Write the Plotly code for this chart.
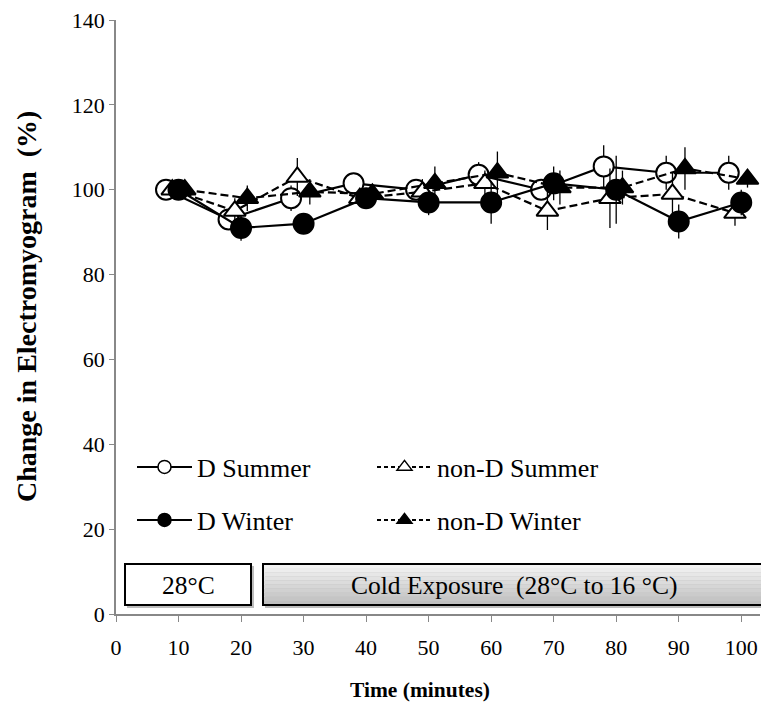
import plotly.graph_objects as go

# ---- data ----
time_min = [10, 20, 30, 40, 50, 60, 70, 80, 90, 100]

d_summer = [100, 93, 98, 101.5, 100, 103.5, 100, 105.5, 104, 104]
d_summer_err = [0, 2, 3, 2, 2, 3, 2, 5, 4, 4]

non_d_summer = [100, 95, 103, 98, 99.5, 101.5, 95, 98, 99, 94.5]
non_d_summer_err = [0, 3, 4.5, 2, 3, 3, 4.5, 7, 5, 3]

d_winter = [100, 91, 92, 98, 97, 97, 101.5, 100, 92.5, 97]
d_winter_err = [0, 3, 2, 2, 3, 5, 4, 8, 4, 3]

non_d_winter = [100, 98, 99.5, 99, 101.5, 104, 100.5, 100.5, 105, 102.5]
non_d_winter_err = [0, 3, 3, 2, 4, 5, 4, 4, 5, 2]

x_ticks = [0, 10, 20, 30, 40, 50, 60, 70, 80, 90, 100]
y_ticks = [0, 20, 40, 60, 80, 100, 120, 140]

# ---- style ----
SERIF = "Liberation Serif, Times New Roman, serif"
PAGE_OFF = 8                      # browser body margin
W, H = 769 - PAGE_OFF, 705 - PAGE_OFF
ML, MT = 116 - PAGE_OFF, 20 - PAGE_OFF
PLOT_R, PLOT_B = 760 - PAGE_OFF, 614 - PAGE_OFF
MR, MB = W - PLOT_R, H - PLOT_B
pw = PLOT_R - ML
ph = PLOT_B - MT


def px_x(sx):
    return (sx - PAGE_OFF - ML) / pw


def px_y(sy):
    return (PLOT_B - (sy - PAGE_OFF)) / ph


series = [
    # name, y, err, x shift (dodge), symbol, fill, dash, legend
    ("D Summer", d_summer, d_summer_err, -2, "circle", "white", "solid", "legend"),
    ("non-D Summer", non_d_summer, non_d_summer_err, -1, "triangle-up", "white", "8px,4px", "legend"),
    ("D Winter", d_winter, d_winter_err, 0, "circle", "black", "solid", "legend2"),
    ("non-D Winter", non_d_winter, non_d_winter_err, 1, "triangle-up", "black", "8px,4px", "legend2"),
]

fig = go.Figure()
for name, yv, ev, dx, sym, fill, dash, lg in series:
    fig.add_trace(go.Scatter(
        x=[t + dx for t in time_min], y=yv, name=name, mode="lines+markers",
        line=dict(color="black", width=2.2, dash=dash),
        marker=dict(symbol=sym, size=20 if sym == "circle" else 19, color=fill,
                    line=dict(color="black", width=2)),
        error_y=dict(type="data", array=ev, visible=True, color="black",
                     thickness=1.3, width=0),
        showlegend=False,
    ))
# legend entries (smaller symbols as in the reference)
for name, yv, ev, dx, sym, fill, dash, lg in series:
    fig.add_trace(go.Scatter(
        x=[None], y=[None], name=name, mode="lines+markers",
        line=dict(color="black", width=2, dash="4px,3px" if dash != "solid" else "solid"),
        marker=dict(symbol=sym, size=13, color=fill, line=dict(color="black", width=1.5)),
        legend=lg, showlegend=True,
    ))


def rect(x0, x1, y0, y1, **kw):
    return dict(type="rect", xref="paper", yref="paper",
                x0=px_x(x0), x1=px_x(x1), y0=px_y(y1), y1=px_y(y0), **kw)


shapes = []
top, bot = 564, 605
# soft shadows
shapes.append(rect(127, 254, top + 2, bot + 3, fillcolor="#bdbdbd", line=dict(width=0)))
shapes.append(rect(265, 767, top + 2, bot + 3, fillcolor="#bdbdbd", line=dict(width=0)))
# 28°C box
shapes.append(rect(125, 251, top, bot, fillcolor="white", line=dict(color="black", width=2)))
# cold exposure box with gradient bands
n = 10
for i in range(n):
    g = int(243 - (243 - 192) * i / (n - 1))
    shapes.append(rect(263, 764, top + (bot - top) * i / n, top + (bot - top) * (i + 1) / n,
                       fillcolor=f"rgb({g},{g},{g})", line=dict(width=0)))
shapes.append(rect(263, 764, top, bot, fillcolor="rgba(0,0,0,0)",
                   line=dict(color="black", width=2)))

annotations = [
    dict(text="28°C", xref="paper", yref="paper", x=px_x(188), y=px_y(585),
         xanchor="center", yanchor="middle",
         showarrow=False, font=dict(family=SERIF, size=25.5, color="black")),
    dict(text="Cold Exposure  (28°C to 16 °C)", xref="paper", yref="paper",
         x=px_x(514), y=px_y(585), xanchor="center", yanchor="middle", showarrow=False,
         font=dict(family=SERIF, size=25.5, color="black")),
    # axis titles
    dict(text="<b>Time (minutes)</b>", xref="paper", yref="paper",
         x=px_x(420), y=px_y(690), xanchor="center", yanchor="middle", showarrow=False,
         font=dict(family=SERIF, size=21.5, color="black")),
    dict(text="<b>Change in Electromyogram  (%)</b>", xref="paper", yref="paper",
         x=px_x(26), y=px_y(307), xanchor="center", yanchor="middle", showarrow=False,
         textangle=-90, font=dict(family=SERIF, size=28, color="black")),
]

leg_common = dict(orientation="h", xanchor="left", yanchor="middle",
                  bgcolor="rgba(0,0,0,0)", entrywidth=170, entrywidthmode="pixels",
                  itemwidth=55, font=dict(family=SERIF, size=26, color="black"))

fig.update_layout(
    width=W, height=H,
    margin=dict(l=ML, r=MR, t=MT, b=MB),
    paper_bgcolor="white", plot_bgcolor="white",
    font=dict(family=SERIF, size=22, color="black"),
    shapes=shapes, annotations=annotations,
    legend=dict(x=px_x(132), y=px_y(467), **leg_common),
    legend2=dict(x=px_x(132), y=px_y(520), **leg_common),
    xaxis=dict(range=[0, 103], tickvals=x_ticks, ticks="outside", ticklen=6,
               tickcolor="#888888", showline=True, linecolor="#888888", linewidth=1.5,
               showgrid=False, zeroline=False, ticklabelstandoff=7, automargin=False,
               ticklabeloverflow="allow",
               tickfont=dict(family=SERIF, size=22)),
    yaxis=dict(range=[0, 140], tickvals=y_ticks, ticks="outside", ticklen=5,
               tickcolor="#888888", showline=True, linecolor="#888888", linewidth=1.5,
               showgrid=False, zeroline=False, automargin=False,
               ticklabeloverflow="allow",
               tickfont=dict(family=SERIF, size=22)),
)

fig.write_html("out.html")
